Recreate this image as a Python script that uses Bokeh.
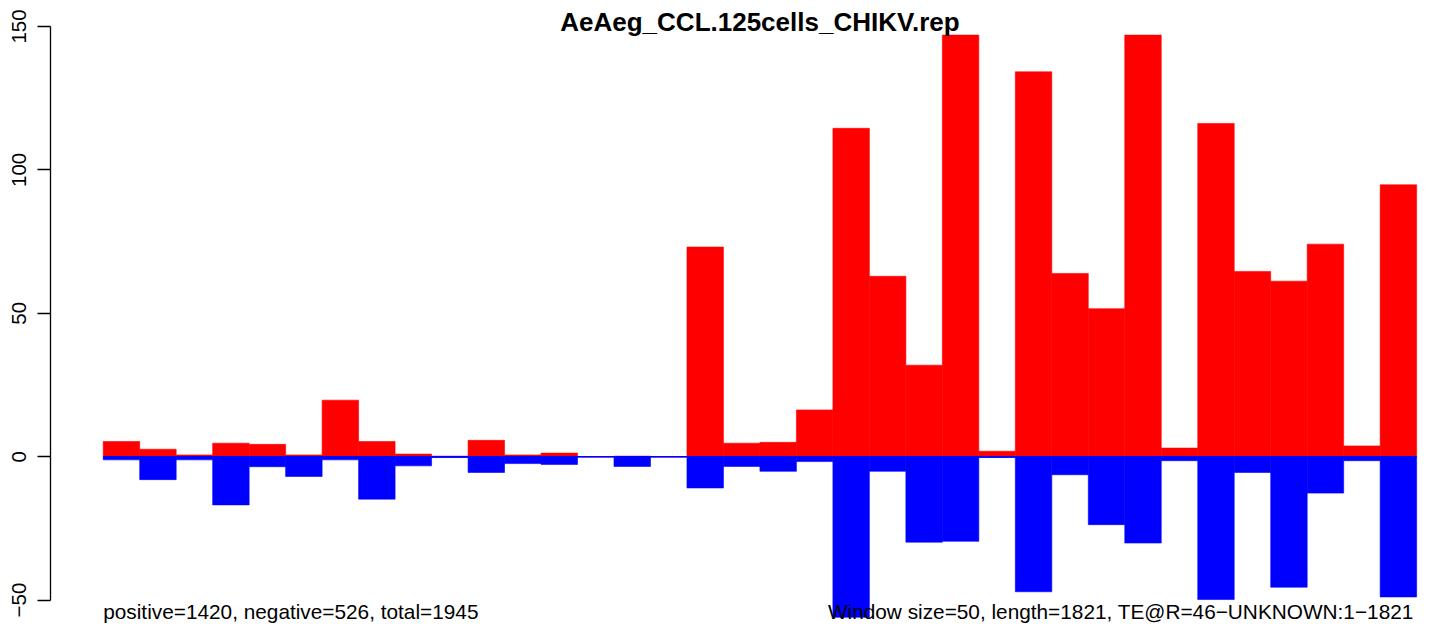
from bokeh.plotting import figure
from bokeh.models import Range1d, FixedTicker, ColumnDataSource
from bokeh.core.properties import value
from bokeh.embed import file_html
from bokeh.resources import INLINE

# ---- data ----
title_text = "AeAeg_CCL.125cells_CHIKV.rep"
positive = [5.3, 2.6, 0.6, 4.7, 4.3, 0.6, 19.7, 5.3, 0.9, 0.2, 5.7, 0.6,
            1.25, 0.0, 0.2, 0.0, 73.1, 4.7, 5.0, 16.3, 114.5, 62.9, 31.9, 147.0,
            1.9, 134.2, 63.9, 51.6, 147.0, 3.0, 116.2, 64.6, 61.2, 74.1, 3.75, 94.8]
negative = [1.1, 8.0, 1.1, 16.8, 3.5, 6.9, 1.1, 14.8, 3.2, 0.3, 5.5, 2.4,
             2.7, 0.0, 3.4, 0.0, 10.9, 3.4, 5.1, 1.7, 56.0, 5.1, 29.8, 29.5,
             0.3, 47.1, 6.3, 23.7, 30.1, 1.4, 49.8, 5.5, 45.5, 12.7, 1.4, 48.9]
y_ticks = [-50, 0, 50, 100, 150]
left_note = "positive=1420, negative=526, total=1945"
right_note = "Window size=50, length=1821, TE@R=46\u2212UNKNOWN:1\u22121821"

n = len(positive)
idx = list(range(n))

src = ColumnDataSource(dict(
    left=idx,
    right=[i + 1 for i in idx],
    pos=positive,
    neg=[-v for v in negative],
    zero=[0] * n,
))

W, H = 1428, 623
p = figure(width=W, height=H, output_backend="svg", toolbar_location=None,
           x_range=Range1d(-1.445, 36.325), y_range=Range1d(-58.16, 159.06),
           min_border_left=50, min_border_right=0, min_border_top=0,
           min_border_bottom=0, background_fill_color="white",
           border_fill_color="white")
p.outline_line_color = None
p.xaxis.visible = False
p.xgrid.visible = False
p.ygrid.visible = False

red_pos = [v > 0 for v in positive]
p.quad(left="left", right="right", bottom="zero", top="pos", source=src,
       fill_color="#FF0000", line_color="#FF0000", line_width=0.6)
p.quad(left="left", right="right", bottom="neg", top="zero", source=src,
       fill_color="#0000FF", line_color="#0000FF", line_width=0.6)
p.line(x=[0, n], y=[0, 0], line_color="#0000FF", line_width=1.5)

ax = p.yaxis[0]
ax.ticker = FixedTicker(ticks=y_ticks)
ax.bounds = (min(y_ticks), max(y_ticks))
ax.major_label_overrides = {t: (str(t).replace("-", "\u2212")) for t in y_ticks}
ax.axis_line_color = "black"
ax.axis_line_width = 1.3
ax.major_tick_line_color = "black"
ax.major_tick_line_width = 1.3
ax.major_tick_out = 13
ax.major_tick_in = 0
ax.minor_tick_line_color = None
ax.major_label_orientation = "vertical"
ax.major_label_standoff = 11
ax.major_label_text_font = "Liberation Sans"
ax.major_label_text_font_size = "20.5px"
ax.major_label_text_color = "black"

font = value("Liberation Sans")
p.text(x=[0], y=[-54.0], text=[left_note], text_font=font,
       text_font_size=value("20.8px"), text_align="left",
       text_baseline="alphabetic", text_color="black")
p.text(x=[35.92], y=[-54.0], text=[right_note], text_font=font,
       text_font_size=value("20.8px"), text_align="right",
       text_baseline="alphabetic", text_color="black")
p.text(x=[n / 2], y=[151.7], text=[title_text], text_font=font,
       text_font_size=value("26px"), text_font_style="bold",
       text_align="center", text_baseline="alphabetic", text_color="black")

open("out.html", "w").write(file_html(p, INLINE))
